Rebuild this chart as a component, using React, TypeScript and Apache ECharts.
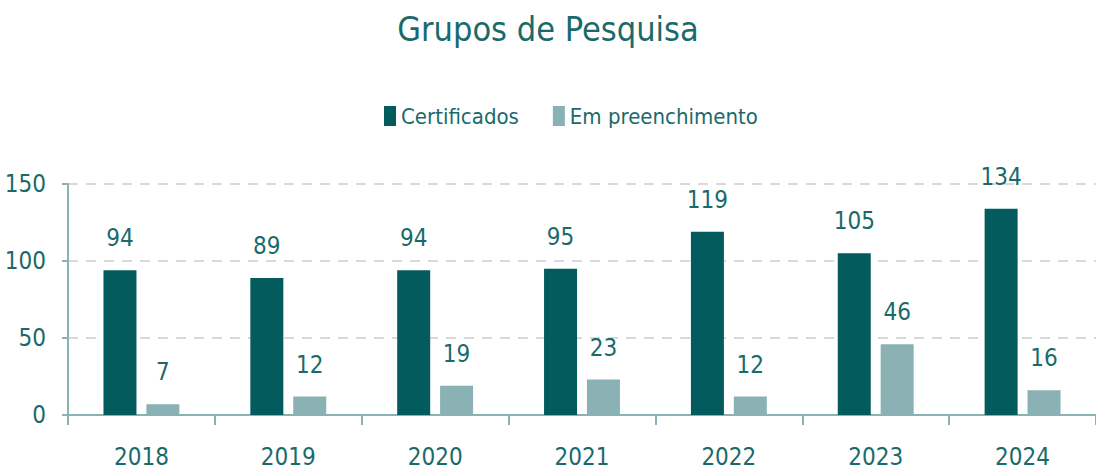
import React, { useEffect, useRef } from "react";
import * as echarts from "echarts";

const years = ["2018", "2019", "2020", "2021", "2022", "2023", "2024"];
const certificados = [94, 89, 94, 95, 119, 105, 134];
const emPreenchimento = [7, 12, 19, 23, 12, 46, 16];
const seriesNames = ["Certificados", "Em preenchimento"];

const FONT = "'Liberation Sans Narrow', 'DejaVu Sans Condensed', 'Liberation Sans', sans-serif";
const TEXT = "#1A6A6A";
const DARK = "#035B5D";
const LIGHT = "#8AB1B3";

export default function App() {
  const ref = useRef<HTMLDivElement>(null);
  useEffect(() => {
    const chart = echarts.init(ref.current!, null, { renderer: "svg" });
    chart.setOption({
      animation: false,
      backgroundColor: "#ffffff",
      textStyle: { fontFamily: FONT },
      title: {
        text: "Grupos de Pesquisa",
        left: "center",
        top: 7,
        textStyle: { fontFamily: FONT, fontSize: 34, fontWeight: "normal", color: TEXT },
      },
      legend: {
        data: seriesNames,
        top: 100,
        left: 379,
        itemWidth: 12,
        itemHeight: 20,
        itemGap: 34,
        icon: "rect",
        textStyle: { fontFamily: FONT, fontSize: 22, color: TEXT },
      },
      grid: { left: 68, right: -1, top: 184, bottom: 57, containLabel: false },
      xAxis: {
        type: "category",
        data: years,
        axisLine: { lineStyle: { color: LIGHT, width: 2 } },
        axisTick: { show: true, length: 10, lineStyle: { color: LIGHT, width: 2 } },
        axisLabel: { fontFamily: FONT, fontSize: 24, color: TEXT, margin: 30 },
      },
      yAxis: {
        type: "value",
        min: 0,
        max: 150,
        interval: 50,
        axisLine: { show: true, lineStyle: { color: LIGHT, width: 2 } },
        axisTick: { show: true, length: 6, lineStyle: { color: LIGHT, width: 2 } },
        axisLabel: { fontFamily: FONT, fontSize: 24, color: TEXT, margin: 22 },
        splitLine: { lineStyle: { color: "#D9D9D9", width: 2, type: [10, 8] } },
      },
      series: [
        {
          name: seriesNames[0],
          type: "bar",
          data: certificados,
          barWidth: 33,
          barGap: "30%",
          itemStyle: { color: DARK },
          label: { show: true, position: "top", distance: 20, fontFamily: FONT, fontSize: 24, color: TEXT },
        },
        {
          name: seriesNames[1],
          type: "bar",
          data: emPreenchimento,
          barWidth: 33,
          barGap: "30%",
          itemStyle: { color: LIGHT },
          label: { show: true, position: "top", distance: 20, fontFamily: FONT, fontSize: 24, color: TEXT },
        },
      ],
    });
    return () => chart.dispose();
  }, []);
  return (
    <div
      ref={ref}
      style={{ position: "absolute", left: 0, top: 0, width: 1096, height: 472 }}
    />
  );
}
